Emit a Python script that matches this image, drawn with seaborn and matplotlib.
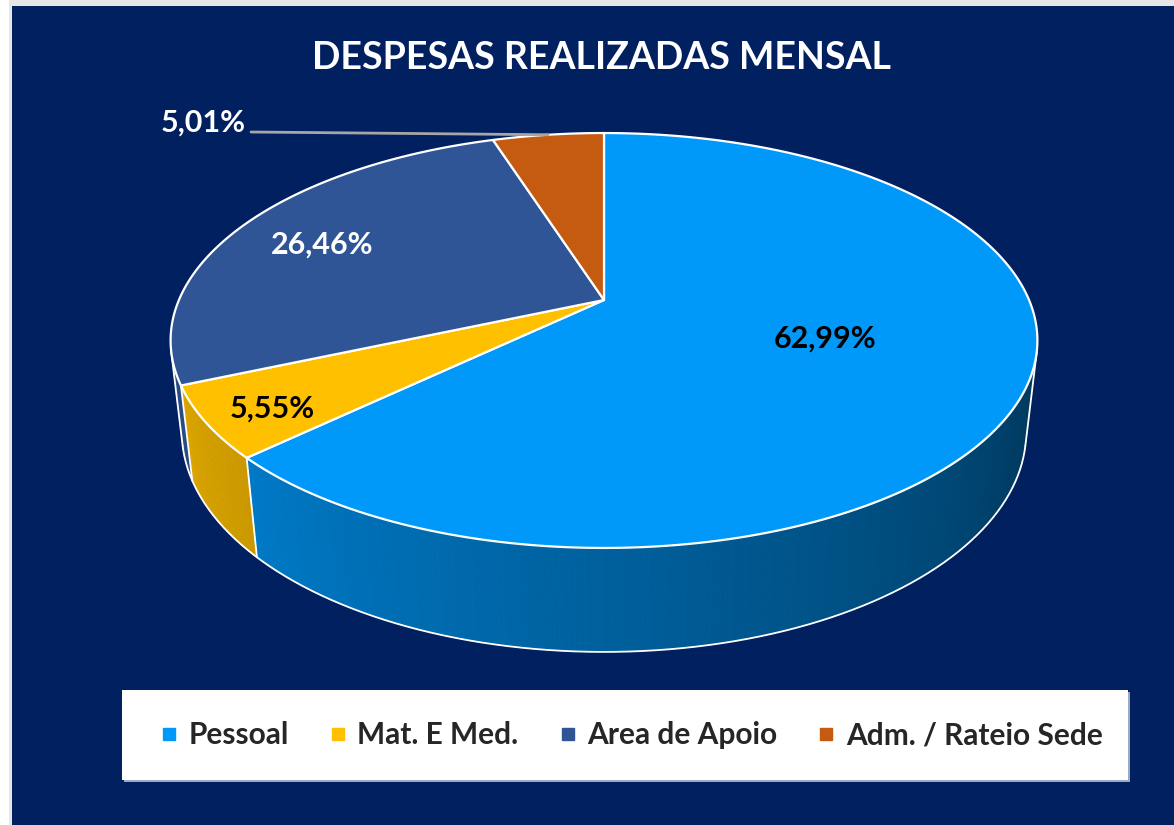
import numpy as np
import matplotlib.pyplot as plt
import seaborn as sns
from matplotlib.patches import Polygon, Rectangle
from matplotlib.lines import Line2D
from matplotlib.colors import to_rgb

# data
categories = ["Pessoal", "Mat. E Med.", "Area de Apoio", "Adm. / Rateio Sede"]
values = [62.99, 5.55, 26.46, 5.01]
labels = ["62,99%", "5,55%", "26,46%", "5,01%"]
colors = ["#0099FA", "#FFC000", "#2F5597", "#C55A11"]
label_colors = ["black", "black", "white", "white"]

sns.set_theme(style="white")
plt.rcParams['font.family'] = ['Lato', 'DejaVu Sans']

W, H = 1174, 825
BG = "#002060"

fig = plt.figure(figsize=(W / 100, H / 100), dpi=100)
fig.patch.set_facecolor("white")
ax = fig.add_axes([0, 0, 1, 1])
ax.set_xlim(0, W)
ax.set_ylim(H, 0)
ax.axis("off")

# chart area background + thin frame
ax.add_patch(Rectangle((0, 0), W, H, facecolor="#E6E6E6", edgecolor="none", zorder=0))
ax.add_patch(Rectangle((0, 0), 9, H, facecolor="white", edgecolor="none", zorder=0))
ax.add_patch(Rectangle((12, 6), W - 12, H - 6, facecolor=BG, edgecolor="none", zorder=0))

# simple perspective projection of the pie disc
CX, CY = 604, 300
F, D, TILT = 1923, 4.524, np.radians(28)
THICK = 0.247


def project(phi, r=1.0, y=0.0):
    u = r * np.sin(phi)
    v = r * np.cos(phi)
    yc = y * np.cos(TILT) + v * np.sin(TILT)
    zc = D + v * np.cos(TILT) - y * np.sin(TILT)
    return CX + F * u / zc, CY - F * yc / zc


fracs = np.array(values) / np.sum(values)
bounds = np.concatenate([[0], np.cumsum(fracs)]) * 2 * np.pi
VIS0, VIS1 = np.arccos(-0.25), 2 * np.pi - np.arccos(-0.25)


def shade(phi):
    t = (phi - VIS0) / (VIS1 - VIS0)
    return 0.36 + t * 0.54


# sides (only the part facing the viewer)
for i, c in enumerate(colors):
    a0, a1 = max(bounds[i], VIS0), min(bounds[i + 1], VIS1)
    if a1 <= a0:
        continue
    phis = np.linspace(a0, a1, max(int((a1 - a0) / 0.01), 2))
    base = np.array(to_rgb(c))
    for p0, p1 in zip(phis[:-1], phis[1:]):
        xs0, ys0 = project(p0)
        xs1, ys1 = project(p1)
        xb1, yb1 = project(p1, y=-THICK)
        xb0, yb0 = project(p0, y=-THICK)
        col = np.clip(base * shade((p0 + p1) / 2), 0, 1)
        ax.add_patch(Polygon([(xs0, ys0), (xs1, ys1), (xb1, yb1), (xb0, yb0)],
                             closed=True, facecolor=col, edgecolor=col, lw=0.6, zorder=2))

# side outlines
phis = np.linspace(VIS0, VIS1, 300)
xb, yb = project(phis, y=-THICK)
ax.plot(xb, yb, color="white", lw=1.3, zorder=3)
for b in list(bounds[1:-1]) + [VIS0, VIS1]:
    if VIS0 <= b <= VIS1:
        xt, yt = project(b)
        xd, yd = project(b, y=-THICK)
        ax.plot([xt, xd], [yt, yd], color="white", lw=1.3, zorder=3)

# top faces
for i, c in enumerate(colors):
    phis = np.linspace(bounds[i], bounds[i + 1], 200)
    xs, ys = project(phis)
    pts = [(CX, CY)] + list(zip(xs, ys))
    ax.add_patch(Polygon(pts, closed=True, facecolor=c, edgecolor="white",
                         lw=1.6, joinstyle="round", zorder=4))

# value labels
label_pos = [(825, 339), (272, 409), (322, 245), (203, 123)]
for (lx, ly), txt, tc in zip(label_pos, labels, label_colors):
    ax.text(lx, ly, txt, color=tc, fontsize=22, fontweight="bold",
            ha="center", va="center", zorder=6)

# leader line for the small slice
mid = (bounds[3] + bounds[4]) / 2
ex, ey = project(mid)
ax.plot([251, ex], [132, ey], color="#A6A6A6", lw=2, zorder=5)

# title
ax.text(601, 58, "DESPESAS REALIZADAS MENSAL", color="white", fontsize=27,
        fontweight="bold", ha="center", va="center", zorder=6)

# legend box
ax.add_patch(Rectangle((124, 692), 1006, 90, facecolor="#9DA9C0", edgecolor="none", zorder=5))
ax.add_patch(Rectangle((122, 690), 1006, 90, facecolor="white", edgecolor="none", zorder=6))
handles = [Line2D([], [], marker="s", linestyle="none", markersize=9,
                  markerfacecolor=c, markeredgecolor=c) for c in colors]
leg = ax.legend(handles, categories, loc="center", bbox_to_anchor=(632 / W, 1 - 735 / H),
                bbox_transform=fig.transFigure, ncol=4, frameon=False,
                prop={"weight": "bold", "size": 21.5}, handletextpad=0.4,
                columnspacing=1.4, handlelength=0.5)
leg.set_zorder(7)

fig.savefig("out.png", dpi=100, facecolor=fig.get_facecolor())
